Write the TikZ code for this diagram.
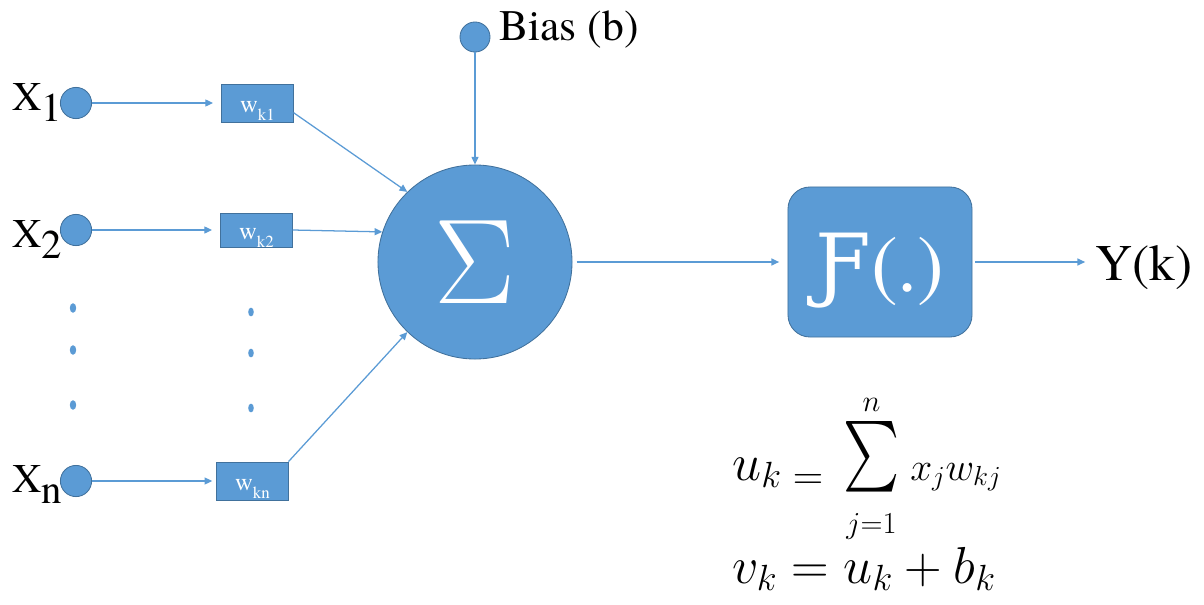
\RequirePackage{fix-cm}
\documentclass[tikz,border=0pt]{standalone}
\usepackage{fontspec}
\IfFontExistsTF{TeX Gyre Termes}{\setmainfont{TeX Gyre Termes}}{\setmainfont{Liberation Serif}}
\newfontfamily\altserif{DejaVu Serif}
\newcommand\Fhook{\iffontchar\font"0191 Ƒ\else{\altserif Ƒ}\fi}
\usepackage{graphicx}
\usetikzlibrary{arrows.meta,shapes.geometric}
\definecolor{nblue}{HTML}{5B9BD5}
\definecolor{nedge}{HTML}{41719C}
\begin{document}
\begin{tikzpicture}[x=0.025cm,y=-0.025cm,
  inp/.style={circle,fill=nblue,draw=nedge,line width=0.6pt,minimum size=0.78cm,inner sep=0pt},
  wbox/.style={rectangle,fill=nblue,draw=nedge,line width=0.6pt,minimum width=1.78cm,minimum height=0.95cm,inner sep=0pt,text=white,font=\fontsize{17.5}{20}\selectfont,text height=13.6pt,text depth=0pt},
  xlab/.style={anchor=base west,inner sep=0pt,font=\fontsize{29}{34}\selectfont},
  conn/.style={draw=nblue,line width=0.9pt,-{Triangle[length=5.5pt,width=5pt]}},
  vdot/.style={ellipse,fill=nblue,minimum width=0.16cm,minimum height=0.24cm,inner sep=0pt},
  mathtxt/.style={inner sep=0pt}]
\useasboundingbox (0,0) rectangle (1204,605);
% inputs
\node[inp] (x1) at (76,103) {};
\node[inp] (x2) at (76,230) {};
\node[inp] (xn) at (76,481) {};
\node[xlab] (lx1) at (12,110) {X\raisebox{-8.5pt}{1}};
\node[xlab] (lx2) at (12,247) {X\raisebox{-8.5pt}{2}};
\node[xlab] (lxn) at (12,492) {X\raisebox{-8pt}{n}};
% weights
\node[wbox] (w1) at (257.5,103) {w\raisebox{-5.7pt}{\fontsize{12}{14}\selectfont k1}};
\node[wbox,minimum height=0.85cm] (w2) at (256.5,230) {w\raisebox{-5.7pt}{\fontsize{12}{14}\selectfont k2}};
\node[wbox] (wn) at (252.5,481) {w\raisebox{-5.7pt}{\fontsize{12}{14}\selectfont kn}};
% dots
\node[vdot] (d1) at (73,308) {};
\node[vdot] (d2) at (73,350) {};
\node[vdot] (d3) at (73,405) {};
\node[vdot,minimum width=0.14cm,minimum height=0.22cm] (d4) at (251,312) {};
\node[vdot,minimum width=0.14cm,minimum height=0.22cm] (d5) at (251,353) {};
\node[vdot,minimum width=0.14cm,minimum height=0.22cm] (d6) at (251,408) {};
% summation
\node[circle,fill=nblue,draw=nedge,line width=0.6pt,minimum size=4.85cm,inner sep=0pt,text=white,font=\fontsize{86}{90}\selectfont] (sig) at (475,262) {\raisebox{-2pt}{$\Sigma$}};
% bias
\node[inp,minimum size=0.75cm] (b) at (475,37) {};
\node[anchor=base west,inner sep=0pt,font=\fontsize{31}{36}\selectfont] (lb) at (499,40) {Bias (b)};
% activation
\node[rectangle,rounded corners=0.55cm,fill=nblue,draw=nedge,line width=0.6pt,minimum width=4.6cm,minimum height=3.75cm,inner sep=0pt,text=white,font=\fontsize{57}{60}\selectfont] (f) at (880,262) {\raisebox{-21pt}[0pt][0pt]{\Fhook(.)}};
\node[anchor=base west,inner sep=0pt,font=\fontsize{36.5}{40}\selectfont] (y) at (1095,280) {Y(k)};
% connectors
\draw[conn,shorten >=6pt] (x1) -- (w1);
\draw[conn,shorten >=6pt] (x2) -- (w2);
\draw[conn,shorten >=3pt] (xn) -- (wn);
\draw[conn] (w1.-15) -- (sig.134);
\draw[conn] (w2.east) -- (sig.162);
\draw[conn] (wn.north east) -- (sig.226);
\draw[conn] (b) -- (sig);
\draw[conn,shorten <=3pt,shorten >=6pt] (sig) -- (f);
\draw[conn,shorten <=2pt,shorten >=7pt] (f.east) -- (f.east -| y.west);
% equations
\node[anchor=base west,mathtxt,font=\fontsize{37}{40}\selectfont] (uk) at (732,480) {$u_k$};
\node[mathtxt,font=\fontsize{30}{34}\selectfont] (eq) at (808,482) {$=$};
\node[anchor=base,mathtxt,font=\fontsize{31}{34}\selectfont] (sum) at (871.5,511) {$\displaystyle\mathop{\resizebox*{40pt}{64pt}{$\sum$}}\limits_{j=1}^{\raisebox{5pt}{$\scriptstyle n$}}$};
\node[anchor=base west,mathtxt,font=\fontsize{28}{32}\selectfont] (xw) at (910,480) {$x_j w_{kj}$};
\node[anchor=base west,mathtxt,font=\fontsize{37}{40}\selectfont] (vk) at (732,583) {$v_k = u_k + b_k$};
\end{tikzpicture}
\end{document}
